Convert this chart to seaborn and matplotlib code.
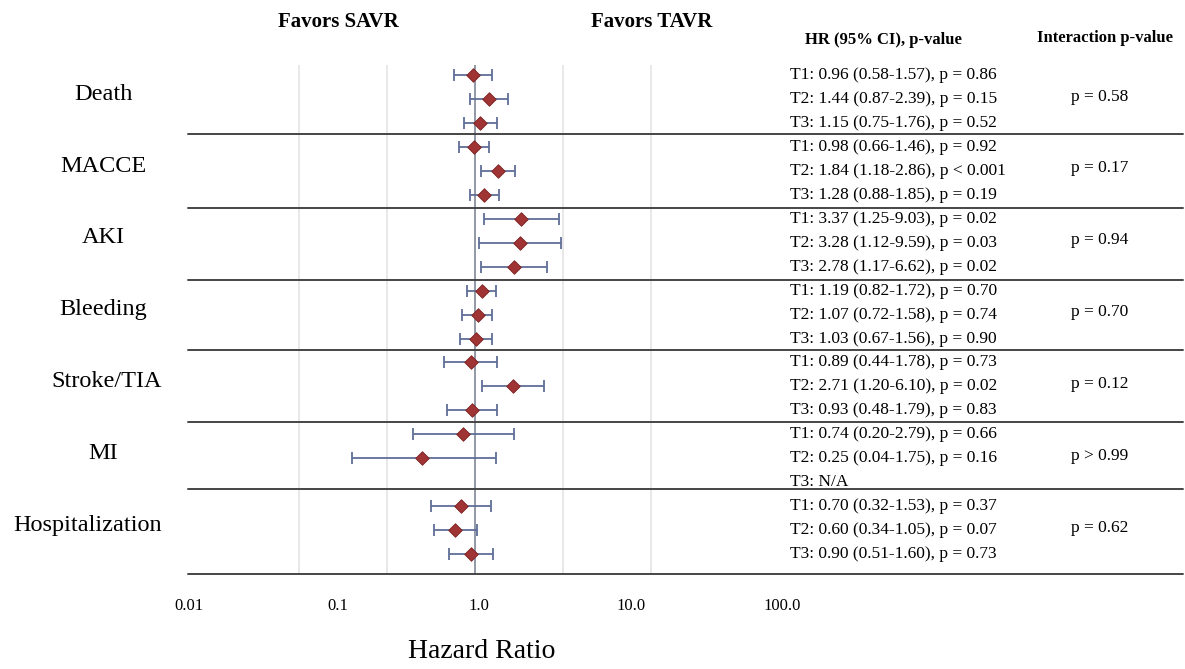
import numpy as np
import pandas as pd
import matplotlib
matplotlib.use("Agg")
import matplotlib.pyplot as plt
import matplotlib.transforms as mtransforms
import seaborn as sns

# ---------------- data ----------------
categories = ["Death", "MACCE", "AKI", "Bleeding", "Stroke/TIA", "MI", "Hospitalization"]
hr_t1 = [0.96, 0.98, 3.37, 1.19, 0.89, 0.74, 0.70]
lo_t1 = [0.58, 0.66, 1.25, 0.82, 0.44, 0.20, 0.32]
hi_t1 = [1.57, 1.46, 9.03, 1.72, 1.78, 2.79, 1.53]
p_t1 = ["= 0.86", "= 0.92", "= 0.02", "= 0.70", "= 0.73", "= 0.66", "= 0.37"]
hr_t2 = [1.44, 1.84, 3.28, 1.07, 2.71, 0.25, 0.60]
lo_t2 = [0.87, 1.18, 1.12, 0.72, 1.20, 0.04, 0.34]
hi_t2 = [2.39, 2.86, 9.59, 1.58, 6.10, 1.75, 1.05]
p_t2 = ["= 0.15", "< 0.001", "= 0.03", "= 0.74", "= 0.02", "= 0.16", "= 0.07"]
hr_t3 = [1.15, 1.28, 2.78, 1.03, 0.93, None, 0.90]
lo_t3 = [0.75, 0.88, 1.17, 0.67, 0.48, None, 0.51]
hi_t3 = [1.76, 1.85, 6.62, 1.56, 1.79, None, 1.60]
p_t3 = ["= 0.52", "= 0.19", "= 0.02", "= 0.90", "= 0.83", None, "= 0.73"]
interaction_p = ["p = 0.58", "p = 0.17", "p = 0.94", "p = 0.70", "p = 0.12", "p > 0.99", "p = 0.62"]
tick_values = [0.01, 0.1, 1, 10, 100]
tick_labels = ["0.01", "0.1", "1.0", "10.0", "100.0"]

# ---------------- long table ----------------
rows = []
for g, cat in enumerate(categories):
    for t, (hr, lo, hi, p) in enumerate([(hr_t1[g], lo_t1[g], hi_t1[g], p_t1[g]),
                                         (hr_t2[g], lo_t2[g], hi_t2[g], p_t2[g]),
                                         (hr_t3[g], lo_t3[g], hi_t3[g], p_t3[g])]):
        rows.append(dict(cat=cat, tert=f"T{t+1}", row=3 * g + t, hr=hr, lo=lo, hi=hi, p=p))
df = pd.DataFrame(rows)
dplot = df.dropna(subset=["hr"]).copy()

# ---------------- style ----------------
sns.set_theme(style="white")
plt.rcParams["font.family"] = ["Liberation Serif", "DejaVu Serif"]
plt.rcParams["text.color"] = "black"

W, H = 1185, 669
fig = plt.figure(figsize=(W / 100, H / 100), dpi=100)
ax_l, ax_r, ax_t, ax_b = 188, 745, 65, 574
ax = fig.add_axes([ax_l / W, 1 - ax_b / H, (ax_r - ax_l) / W, (ax_b - ax_t) / H])

ax.set_xscale("log")
x_one, decade = 475, 88.0
ax.set_xlim(10 ** ((ax_l - x_one) / decade), 10 ** ((ax_r - x_one) / decade))
ax.set_ylim(20.83, -0.42)

ax.set_xticks(tick_values)
ax.set_xticklabels([])
ax.xaxis.set_minor_locator(matplotlib.ticker.NullLocator())
ax.tick_params(axis="both", length=0)
ax.set_yticks([])
ax.grid(axis="x", color="#e4e4e4", linewidth=1.2)
ax.grid(axis="y", visible=False)
for s in ax.spines.values():
    s.set_visible(False)
ax.axvline(1.0, color="#8d92a3", linewidth=1.3, zorder=1)

ci_col = "#5f6e98"
ax.errorbar(dplot["hr"], dplot["row"],
            xerr=[dplot["hr"] - dplot["lo"], dplot["hi"] - dplot["hr"]],
            fmt="none", ecolor=ci_col, elinewidth=1.3, capsize=4.2, capthick=1.3, zorder=2)
sns.scatterplot(data=dplot, x="hr", y="row", marker="D", s=48, color="#a03333",
                edgecolor="#7a2222", linewidth=0.6, zorder=3, ax=ax, legend=False)
ax.set_xlabel("")
ax.set_ylabel("")

# separators (extend across text columns)
sep_rows = [2.46, 5.55, 8.56, 11.48, 14.49, 17.29, 20.83]
xmax_frac = (1183 - ax_l) / (ax_r - ax_l)
for yy in sep_rows:
    ax.axhline(yy, xmin=0, xmax=xmax_frac, color="#454545", linewidth=1.4, clip_on=False, zorder=4)

def fx(px):
    return px / W

def fy(py):
    return 1 - py / H

trans_row = mtransforms.blended_transform_factory(fig.transFigure, ax.transData)

# category labels
label_x = [103, 103, 103, 103, 107, 103, 88]
for g, cat in enumerate(categories):
    fig.text(fx(label_x[g]), 3 * g + 1 - 0.2, cat, transform=trans_row, ha="center", va="center",
             fontsize=17.5)

# HR text column and interaction column
for _, r in df.iterrows():
    if pd.isna(r["hr"]):
        s = f"{r['tert']}: N/A"
    else:
        s = f"{r['tert']}: {r['hr']:.2f} ({r['lo']:.2f}-{r['hi']:.2f}), p {r['p']}"
    fig.text(fx(790), r["row"], s, transform=trans_row, ha="left", va="center", fontsize=12.5)
for g, ip in enumerate(interaction_p):
    fig.text(fx(1100), 3 * g + 1 - 0.1, ip, transform=trans_row, ha="center", va="center", fontsize=12.5)

# headers
fig.text(fx(338), fy(22), "Favors SAVR", ha="center", va="center", fontsize=15, fontweight="bold")
fig.text(fx(652), fy(22), "Favors TAVR", ha="center", va="center", fontsize=15, fontweight="bold")
fig.text(fx(883), fy(40), "HR (95% CI), p-value", ha="center", va="center", fontsize=12, fontweight="bold")
fig.text(fx(1105), fy(38), "Interaction p-value", ha="center", va="center", fontsize=12, fontweight="bold")

# axis tick labels and title
tick_px = [189, 338, 479, 631, 782]
for px, lab in zip(tick_px, tick_labels):
    fig.text(fx(px), fy(606), lab, ha="center", va="center", fontsize=12)
fig.text(fx(482), fy(652), "Hazard Ratio", ha="center", va="center", fontsize=20)

fig.savefig("out.png", dpi=100, facecolor="white")
